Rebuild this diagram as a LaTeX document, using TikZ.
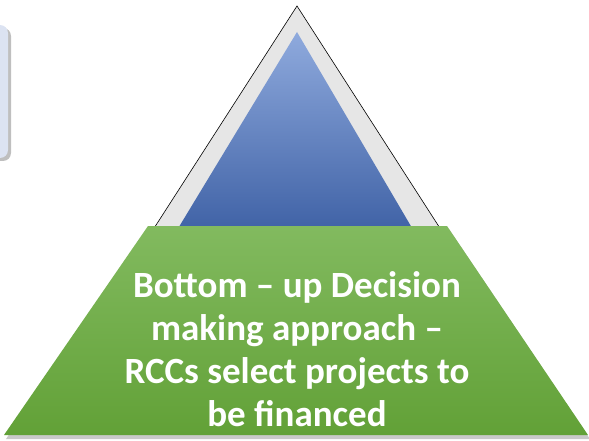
\documentclass[tikz,border=0pt]{standalone}
\usepackage{fontspec}
\setmainfont{Carlito}
\definecolor{boxblue}{HTML}{DCE3F2}
\definecolor{peakgray}{HTML}{E6E6E6}
\definecolor{bluetop}{HTML}{8FAADD}
\definecolor{bluemid}{HTML}{4F7BCA}
\definecolor{bluebot}{HTML}{3A5DA2}
\definecolor{greentop}{HTML}{82BA5F}
\definecolor{greenbot}{HTML}{62A137}
\begin{document}
\begin{tikzpicture}[x=1pt,y=-1pt]
\useasboundingbox (0,0) rectangle (589,441);
\clip (0,0) rectangle (589,441);
% left box, cut at the border
\fill[black!25,rounded corners=8pt] (-60,28) rectangle (11,161);
\fill[boxblue,rounded corners=8pt] (-60,25) rectangle (8,158);
% peak
\draw[fill=peakgray,line width=0.6pt] (140,250)--(297,6)--(454,250)--cycle;
\shade[top color=bluetop,middle color=bluemid,bottom color=bluebot] (168,245)--(297,32)--(422,245)--cycle;
% base
\fill[black!30,opacity=0.7] (150,229)--(449,229)--(590,439)--(6,439)--cycle;
\shade[top color=greentop,bottom color=greenbot] (148,226)--(447,226)--(588,435)--(4,435)--cycle;
\node[text=white,align=center,font=\fontsize{37}{43}\selectfont\bfseries] (txt) at (297,349)
  {Bottom -- up Decision\\making approach --\\RCCs select projects to\\be financed};
\end{tikzpicture}
\end{document}
